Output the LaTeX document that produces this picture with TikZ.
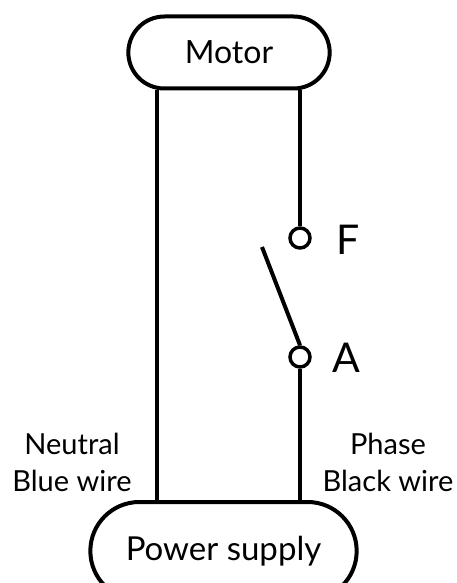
\documentclass[tikz,border=0pt]{standalone}
\usepackage{fontspec}
\setmainfont{Lato}
\usetikzlibrary{shapes.misc}

\begin{document}
\begin{tikzpicture}[x=1pt,y=-1pt,line width=4pt]
  \useasboundingbox (0,0) rectangle (457,583);

  % boxes
  \node[draw, rounded rectangle, minimum width=208pt, minimum height=72pt,
        font=\fontsize{32}{38}\selectfont] (motor) at (229,52.5) {Motor};
  \node[draw, rounded rectangle, minimum width=273pt, minimum height=98pt,
        font=\fontsize{33}{40}\selectfont] (supply) at (223.5,551) {Power supply};

  % switch terminals
  \node[draw, circle, minimum size=20pt, inner sep=0pt, line width=3.5pt] (F) at (300,238) {};
  \node[draw, circle, minimum size=20pt, inner sep=0pt, line width=3.5pt] (A) at (300,357) {};
  \node[font=\fontsize{41}{48}\selectfont] (Flabel) at (348,240) {F};
  \node[font=\fontsize{41}{48}\selectfont] (Alabel) at (346,358) {A};

  % wires
  \coordinate (neutral) at (157,0);
  \coordinate (blade) at (262,247);
  \draw (neutral |- motor.south) -- (neutral |- supply.north);
  \draw (F |- motor.south) -- (F);
  \draw (A) -- (A |- supply.north);
  \draw (A.north) -- (blade);

  % wire names
  \node[align=center, font=\fontsize{29}{37}\selectfont] (nlabel) at (72,462) {Neutral\\Blue wire};
  \node[align=center, font=\fontsize{29}{37}\selectfont] (plabel) at (388,462) {Phase\\Black wire};
\end{tikzpicture}
\end{document}
